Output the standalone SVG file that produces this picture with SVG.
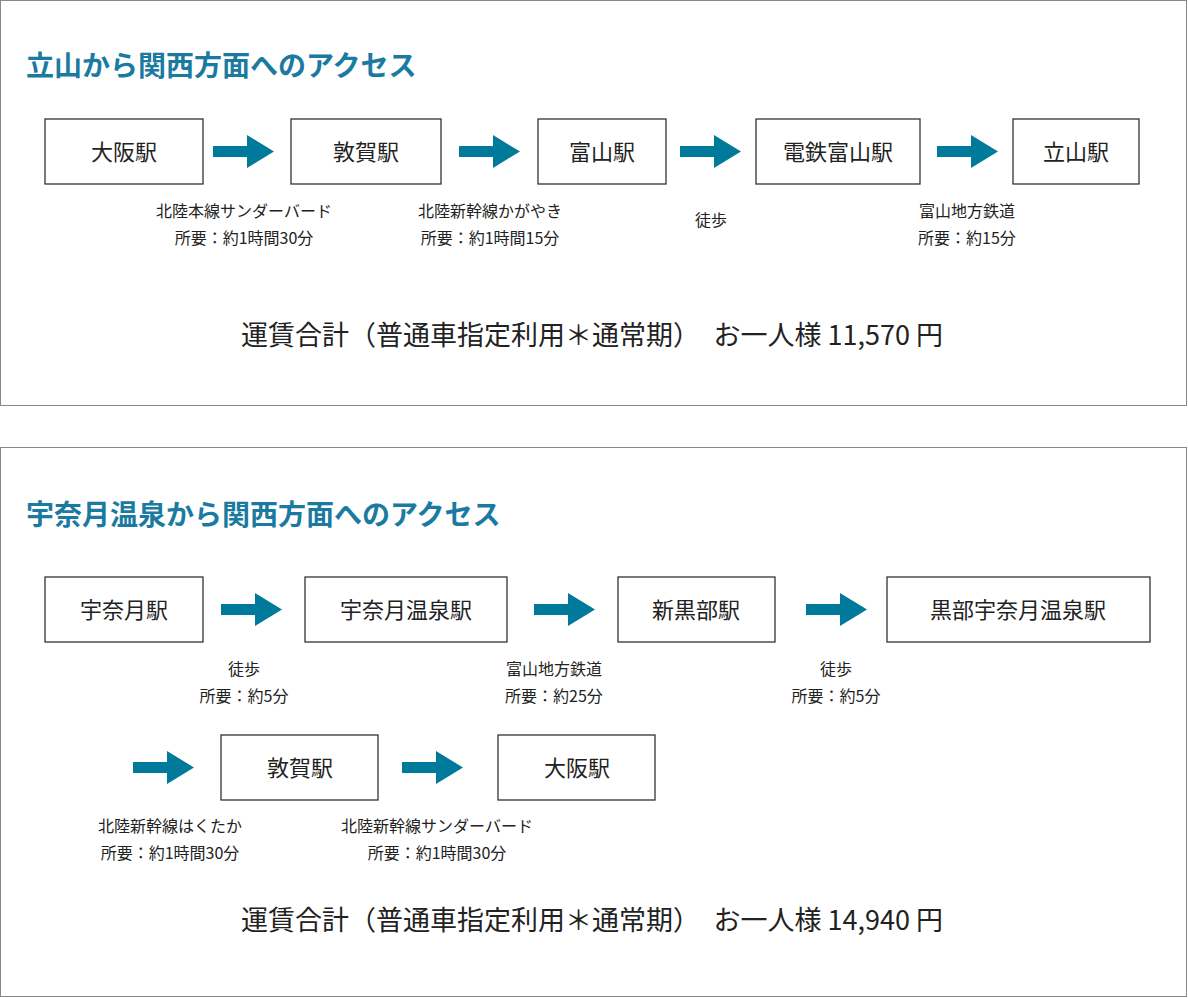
<svg xmlns="http://www.w3.org/2000/svg" width="1188" height="998" viewBox="0 0 1188 998">
<style>
.panel{fill:#fff;stroke:#888;stroke-width:1}
.box{fill:#fff;stroke:#333;stroke-width:1.3}
.t{font-family:"Noto Sans CJK JP","Noto Sans",sans-serif;fill:#222;text-anchor:middle}
.n{font-size:22px}
.s{font-size:16px}
.h{font-family:"Noto Sans CJK JP",sans-serif;font-weight:bold;font-size:28px;fill:#1a7aa0}
.f{font-size:27px}
.ar{fill:#007a9a}
</style>
<defs><path id="a" d="M0,11 H34 V0 L61,16.5 L34,33 V22 H0 Z"/></defs>
<rect class="panel" x="0.5" y="0.5" width="1186" height="405"/>
<rect class="panel" x="0.5" y="447.5" width="1186" height="549"/>
<text class="h" x="26" y="76">立山から関西方面へのアクセス</text>
<text class="h" x="26" y="525">宇奈月温泉から関西方面へのアクセス</text>
<g id="connectors">
<use href="#a" class="ar" x="213" y="135"/>
<use href="#a" class="ar" x="459" y="135"/>
<use href="#a" class="ar" x="680" y="135"/>
<use href="#a" class="ar" x="937" y="135"/>
<use href="#a" class="ar" x="221" y="593"/>
<use href="#a" class="ar" x="534" y="593"/>
<use href="#a" class="ar" x="806" y="593"/>
<use href="#a" class="ar" x="133" y="751"/>
<use href="#a" class="ar" x="402" y="751"/>
</g>
<g id="n1"><rect class="box" x="45" y="119" width="158" height="65"/><text class="t n" x="124" y="160">大阪駅</text></g>
<g id="n2"><rect class="box" x="291" y="119" width="150" height="65"/><text class="t n" x="366" y="160">敦賀駅</text></g>
<g id="n3"><rect class="box" x="538" y="119" width="128" height="65"/><text class="t n" x="602" y="160">富山駅</text></g>
<g id="n4"><rect class="box" x="756" y="119" width="164" height="65"/><text class="t n" x="838" y="160">電鉄富山駅</text></g>
<g id="n5"><rect class="box" x="1013" y="119" width="126" height="65"/><text class="t n" x="1076" y="160">立山駅</text></g>
<text class="t s" x="244" y="217">北陸本線サンダーバード</text>
<text class="t s" x="244" y="244">所要：約1時間30分</text>
<text class="t s" x="490" y="217">北陸新幹線かがやき</text>
<text class="t s" x="490" y="244">所要：約1時間15分</text>
<text class="t s" x="711" y="226">徒歩</text>
<text class="t s" x="967" y="217">富山地方鉄道</text>
<text class="t s" x="967" y="244">所要：約15分</text>
<text class="t f" x="592" y="345">運賃合計（普通車指定利用＊通常期）　お一人様 11,570 円</text>
<g id="m1"><rect class="box" x="45" y="577" width="158" height="65"/><text class="t n" x="124" y="618">宇奈月駅</text></g>
<g id="m2"><rect class="box" x="305" y="577" width="202" height="65"/><text class="t n" x="406" y="618">宇奈月温泉駅</text></g>
<g id="m3"><rect class="box" x="618" y="577" width="157" height="65"/><text class="t n" x="696" y="618">新黒部駅</text></g>
<g id="m4"><rect class="box" x="887" y="577" width="263" height="65"/><text class="t n" x="1018" y="618">黒部宇奈月温泉駅</text></g>
<g id="m5"><rect class="box" x="221" y="735" width="157" height="65"/><text class="t n" x="300" y="776">敦賀駅</text></g>
<g id="m6"><rect class="box" x="498" y="735" width="157" height="65"/><text class="t n" x="577" y="776">大阪駅</text></g>
<text class="t s" x="244" y="675">徒歩</text>
<text class="t s" x="244" y="702">所要：約5分</text>
<text class="t s" x="554" y="675">富山地方鉄道</text>
<text class="t s" x="554" y="702">所要：約25分</text>
<text class="t s" x="836" y="675">徒歩</text>
<text class="t s" x="836" y="702">所要：約5分</text>
<text class="t s" x="170" y="832">北陸新幹線はくたか</text>
<text class="t s" x="170" y="859">所要：約1時間30分</text>
<text class="t s" x="437" y="832">北陸新幹線サンダーバード</text>
<text class="t s" x="437" y="859">所要：約1時間30分</text>
<text class="t f" x="592" y="930">運賃合計（普通車指定利用＊通常期）　お一人様 14,940 円</text>
</svg>
